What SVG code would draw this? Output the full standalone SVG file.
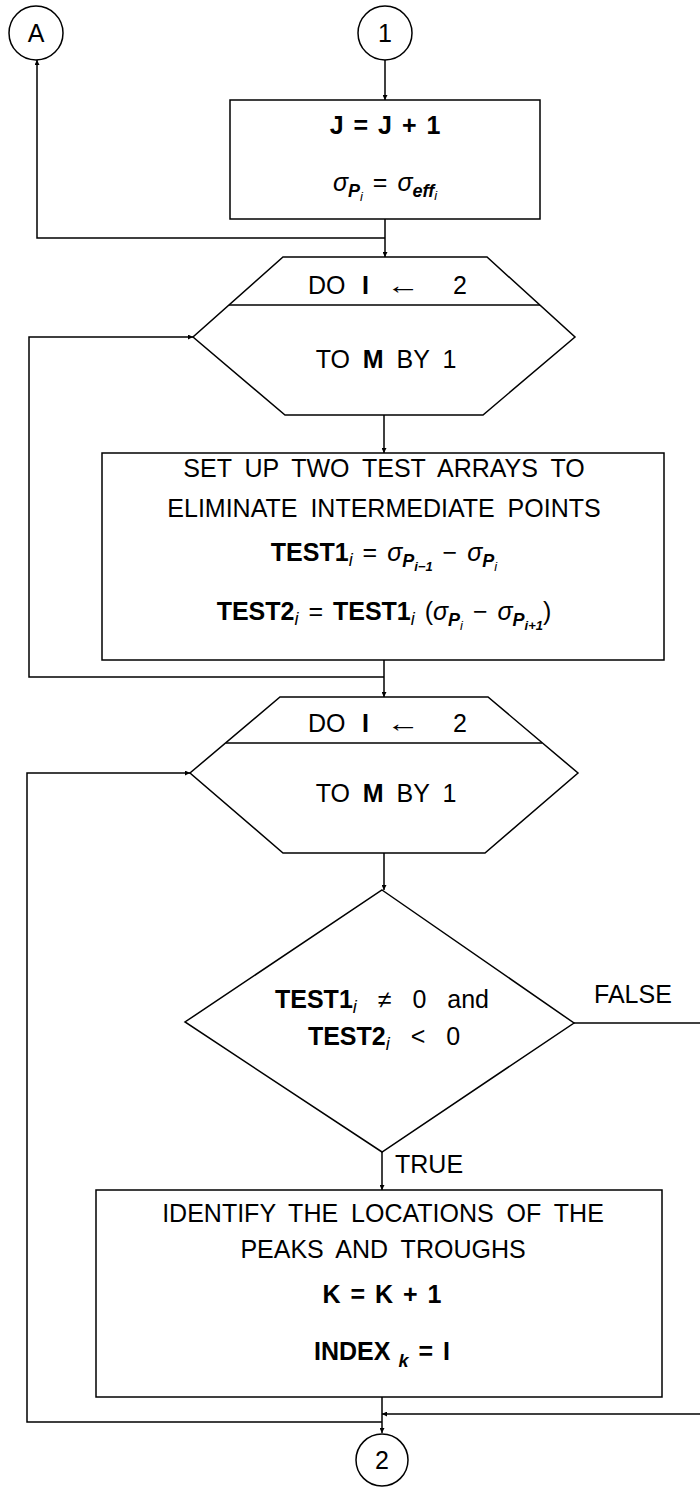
<svg xmlns="http://www.w3.org/2000/svg" width="700" height="1487" viewBox="0 0 700 1487">
<style>
.n{fill:#fff;stroke:#000;stroke-width:1.5}
.c{fill:none;stroke:#000;stroke-width:1.5}
text{font-family:"Liberation Sans",Arial,sans-serif;fill:#000;font-size:25px}
.t{text-anchor:middle;word-spacing:6px}
.m{text-anchor:middle;word-spacing:3px}
.d{text-anchor:middle;word-spacing:14px}
.l{text-anchor:start}
.b{font-weight:bold}
.i{font-style:italic}
.s{font-size:18px}
.ss{font-size:13px}
</style>
<defs>
<marker id="arr" viewBox="0 0 6 6" refX="6" refY="3" markerWidth="5" markerHeight="5" orient="auto" markerUnits="userSpaceOnUse"><path d="M0,0 L6,3 L0,6 z" fill="#000"/></marker>
</defs>
<rect width="700" height="1487" fill="#fff"/>
<g id="connectors">
<path class="c" d="M385,60 V100" marker-end="url(#arr)"/>
<path class="c" d="M385,219 V257" marker-end="url(#arr)"/>
<path class="c" d="M385,238 H37 V60" marker-end="url(#arr)"/>
<path class="c" d="M384,415 V453" marker-end="url(#arr)"/>
<path class="c" d="M384,660 V697" marker-end="url(#arr)"/>
<path class="c" d="M384,677 H29 V337 H193" marker-end="url(#arr)"/>
<path class="c" d="M384,853 V890" marker-end="url(#arr)"/>
<path class="c" d="M382,1152 V1190" marker-end="url(#arr)"/>
<path class="c" d="M574,1023 H700"/>
<path class="c" d="M700,1414 H382" marker-end="url(#arr)"/>
<path class="c" d="M382,1397 V1433" marker-end="url(#arr)"/>
<path class="c" d="M382,1422 H27 V773 H190" marker-end="url(#arr)"/>
</g>
<g id="nodeA">
<circle class="n" cx="36" cy="33" r="27"/>
<text class="t" x="36" y="42">A</text>
</g>
<g id="node1">
<circle class="n" cx="385" cy="33" r="27"/>
<text class="t" x="385" y="42">1</text>
</g>
<g id="box1">
<rect class="n" x="230" y="100" width="310" height="119"/>
<text class="m b" x="385" y="134">J = J + 1</text>
<text class="m" x="385" y="191"><tspan class="i">σ</tspan><tspan class="s i b" dy="6">P</tspan><tspan class="ss i" dy="4">i</tspan><tspan dy="-10"> = </tspan><tspan class="i">σ</tspan><tspan class="s i b" dy="6">eff</tspan><tspan class="ss i" dy="3">i</tspan></text>
</g>
<g id="loop1">
<polygon class="n" points="283,257 487,257 575,337 483,415 285,415 193,337"/>
<line class="c" x1="229" y1="305" x2="540" y2="305"/>
<text class="l" x="308" y="294">DO</text>
<text class="l b" x="362" y="294">I</text>
<text class="l" x="386" y="294" textLength="34" lengthAdjust="spacingAndGlyphs">←</text>
<text class="l" x="453" y="294">2</text>
<text class="t" x="386" y="368">TO <tspan class="b">M</tspan> BY 1</text>
</g>
<g id="box2">
<rect class="n" x="102" y="453" width="562" height="207"/>
<text class="t" x="384" y="477">SET UP TWO TEST ARRAYS TO</text>
<text class="t" x="384" y="517">ELIMINATE INTERMEDIATE POINTS</text>
<text class="m" x="384" y="561"><tspan class="b">TEST1</tspan><tspan class="s i" dy="5">i</tspan><tspan dy="-5"> = </tspan><tspan class="i">σ</tspan><tspan class="s i b" dy="6">P</tspan><tspan class="ss i b" dy="4">i−1</tspan><tspan dy="-10"> − </tspan><tspan class="i">σ</tspan><tspan class="s i b" dy="6">P</tspan><tspan class="ss i" dy="4">i</tspan></text>
<text class="m" x="384" y="620"><tspan class="b">TEST2</tspan><tspan class="s i" dy="5">i</tspan><tspan dy="-5"> = </tspan><tspan class="b">TEST1</tspan><tspan class="s i" dy="5">i</tspan><tspan dy="-5">  (</tspan><tspan class="i">σ</tspan><tspan class="s i b" dy="6">P</tspan><tspan class="ss i" dy="4">i</tspan><tspan dy="-10"> − </tspan><tspan class="i">σ</tspan><tspan class="s i b" dy="6">P</tspan><tspan class="ss i b" dy="4">i+1</tspan><tspan dy="-10">)</tspan></text>
</g>
<g id="loop2">
<polygon class="n" points="280,697 488,697 578,773 485,853 283,853 190,773"/>
<line class="c" x1="226" y1="743" x2="542" y2="743"/>
<text class="l" x="308" y="732">DO</text>
<text class="l b" x="362" y="732">I</text>
<text class="l" x="386" y="732" textLength="34" lengthAdjust="spacingAndGlyphs">←</text>
<text class="l" x="453" y="732">2</text>
<text class="t" x="386" y="802">TO <tspan class="b">M</tspan> BY 1</text>
</g>
<g id="decision">
<polygon class="n" points="382,890 574,1023 382,1152 185,1022"/>
<text class="d" x="382" y="1008"><tspan class="b">TEST1</tspan><tspan class="s i" dy="5">i</tspan><tspan dy="-5"> ≠ 0 and</tspan></text>
<text class="d" x="384" y="1045"><tspan class="b">TEST2</tspan><tspan class="s i" dy="5">i</tspan><tspan dy="-5"> &lt; 0</tspan></text>
<text class="l" x="594" y="1003">FALSE</text>
<text class="l" x="395" y="1173">TRUE</text>
</g>
<g id="box3">
<rect class="n" x="96" y="1190" width="566" height="207"/>
<text class="t" x="383" y="1222">IDENTIFY THE LOCATIONS OF THE</text>
<text class="t" x="383" y="1258">PEAKS AND TROUGHS</text>
<text class="m b" x="382" y="1303">K = K + 1</text>
<text class="m b" x="382" y="1360">INDEX<tspan class="s i" dy="7"> k</tspan><tspan dy="-7"> = I</tspan></text>
</g>
<g id="node2">
<circle class="n" cx="382" cy="1460" r="26"/>
<text class="t" x="382" y="1469">2</text>
</g>
</svg>
